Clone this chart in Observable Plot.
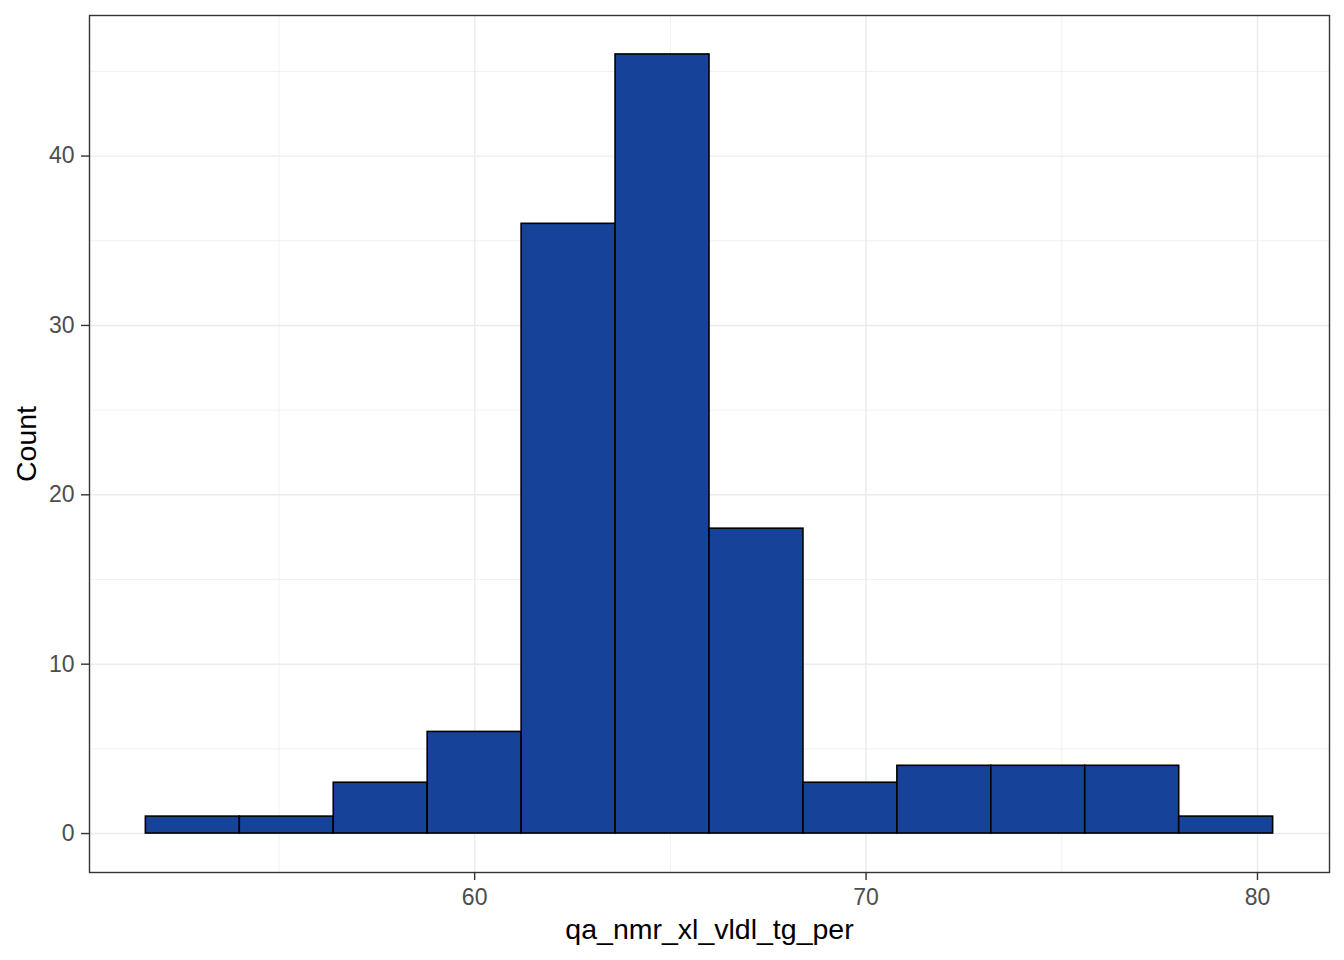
<!DOCTYPE html>
<html>
<head>
<meta charset="utf-8">
<script src="https://cdn.jsdelivr.net/npm/d3@7"></script>
<script src="https://cdn.jsdelivr.net/npm/@observablehq/plot@0.6"></script>
<style>
  html, body { margin: 0; padding: 0; background: #fff; }
</style>
</head>
<body>
<div id="chart"></div>
<script>
const binStart = [51.6, 54.0, 56.4, 58.8, 61.2, 63.6, 66.0, 68.4, 70.8, 73.2, 75.6, 78.0];
const binEnd   = [54.0, 56.4, 58.8, 61.2, 63.6, 66.0, 68.4, 70.8, 73.2, 75.6, 78.0, 80.4];
const counts   = [1, 1, 3, 6, 36, 46, 18, 3, 4, 4, 4, 1];
const xMajor = [60, 70, 80];
const xMinor = [55, 65, 75];
const yMajor = [0, 10, 20, 30, 40];
const yMinor = [5, 15, 25, 35, 45];
const xTitle = "qa_nmr_xl_vldl_tg_per";
const yTitle = "Count";

const bins = binStart.map((s, i) => ({x1: s, x2: binEnd[i], count: counts[i]}));

const chart = Plot.plot({
  width: 1344,
  height: 960,
  marginLeft: 89,
  marginRight: 15,
  marginTop: 15,
  marginBottom: 88,
  style: {fontFamily: "'Liberation Sans', Arial, sans-serif", background: "#fff"},
  x: {domain: [50.16, 81.84]},
  y: {domain: [-2.3, 48.3]},
  marks: [
    Plot.gridX(xMinor, {stroke: "#EBEBEB", strokeOpacity: 1, strokeWidth: 0.7}),
    Plot.gridY(yMinor, {stroke: "#EBEBEB", strokeOpacity: 1, strokeWidth: 0.7}),
    Plot.gridX(xMajor, {stroke: "#EBEBEB", strokeOpacity: 1, strokeWidth: 1.4}),
    Plot.gridY(yMajor, {stroke: "#EBEBEB", strokeOpacity: 1, strokeWidth: 1.4}),
    Plot.rect(bins, {x1: "x1", x2: "x2", y1: 0, y2: "count", fill: "#17429A", stroke: "#000", strokeWidth: 1.6}),
    Plot.frame({stroke: "#333333", strokeWidth: 1.4}),
    Plot.axisX(xMajor, {tickSize: 8, tickPadding: 8, stroke: "#333333", strokeWidth: 1.4, fill: "#4D4D4D", fontSize: 23, label: null}),
    Plot.axisY(yMajor, {tickSize: 8, tickPadding: 7, stroke: "#333333", strokeWidth: 1.4, fill: "#4D4D4D", fontSize: 23, label: null}),
    Plot.text([xTitle], {frameAnchor: "bottom", dy: 66, text: d => d, fontSize: 28.5, fill: "#000"}),
    Plot.text([yTitle], {frameAnchor: "left", textAnchor: "middle", dx: -63, rotate: -90, text: d => d, fontSize: 28.5, fill: "#000"})
  ]
});
document.getElementById("chart").appendChild(chart);
</script>
</body>
</html>
